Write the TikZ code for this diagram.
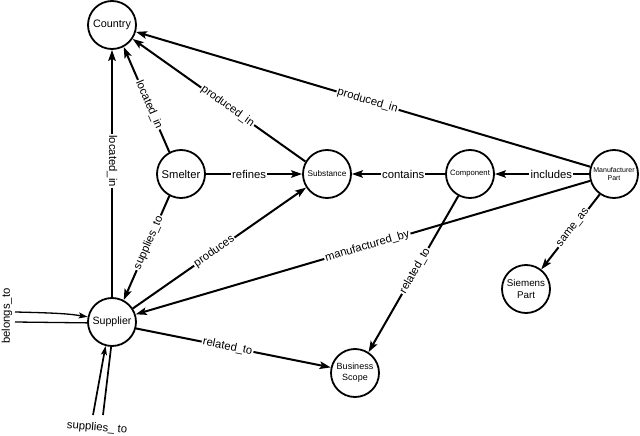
\documentclass[tikz,border=0pt]{standalone}
\usepackage{fontspec}
\setmainfont{Liberation Sans}
\usetikzlibrary{arrows.meta}
\tikzset{
  ent/.style={circle, draw, line width=1.8pt, minimum size=48pt, inner sep=0pt, align=center},
  rel/.style={line width=2pt, -{Stealth[length=11pt,width=7.5pt,inset=2.2pt]}},
  loopln/.style={line width=1.3pt},
  lbl/.style={fill=white, inner sep=1.2pt, font=\fontsize{11.3}{12}\selectfont, sloped},
  lblf/.style={inner sep=1pt, font=\fontsize{11.3}{12}\selectfont}
}
\begin{document}
\begin{tikzpicture}[x=1pt,y=-1pt]
\useasboundingbox (0,0) rectangle (640,436);
\node[ent, font=\fontsize{10.8}{12}\selectfont] (country) at (112,25) {Country};
\node[ent, font=\fontsize{11.2}{12}\selectfont] (smelter) at (181,174) {Smelter};
\node[ent, font=\fontsize{8.2}{9}\selectfont] (subst) at (327,174) {Substance};
\node[ent, font=\fontsize{7.7}{9}\selectfont] (comp) at (470,174) {Component};
\node[ent, font=\fontsize{7}{9}\selectfont] (mp) at (614,174) {Manufacturer\\Part};
\node[ent, font=\fontsize{10.6}{12}\selectfont] (sup) at (112,322) {Supplier};
\node[ent, font=\fontsize{9.8}{12}\selectfont] (siem) at (526,289) {Siemens\\Part};
\node[ent, font=\fontsize{9}{11}\selectfont] (bs) at (355,373) {Business\\Scope};

% edges
\draw[rel] (sup.90) -- node[pos=0.55, fill=white, inner sep=1.2pt, font=\fontsize{11.3}{12}\selectfont, rotate=-90] {located\_in} (country.-90);
\draw[rel] (smelter.118) -- node[lbl, pos=0.45] {located\_in} (country.-62);
\draw[rel] (subst.150) -- node[lbl, pos=0.45] {produced\_in} (country.-34);
\draw[rel] (mp.163) -- node[lbl, pos=0.49] {produced\_in} (country.-16);
\draw[rel] (smelter) -- node[lbl, pos=0.45] {refines} (subst);
\draw[rel] (comp) -- node[lbl, pos=0.45] {contains} (subst);
\draw[rel] (mp) -- node[lbl, pos=0.4] {includes} (comp);
\draw[rel] (mp.235) -- node[lbl, pos=0.45] {same\_as} (siem.52);
\draw[rel] (mp.196) -- node[lbl, pos=0.49] {manufactured\_by} (sup.18);
\draw[rel] (sup.33) -- node[lbl, pos=0.47] {produces} (subst.213);
\draw[rel] (smelter.242) -- node[lbl, pos=0.45] {supplies\_to} (sup.62);
\draw[rel] (sup.-15) -- node[lbl, pos=0.47] {related\_to} (bs.167);
\draw[rel] (comp.242) -- node[lbl, pos=0.48] {related\_to} (bs.57);

% self loops
\coordinate (b1) at (15,312);
\coordinate (b2) at (15,322);
\node[lblf, rotate=90] (bl) at (7,316) {belongs\_to};
\draw[loopln, -{Stealth[length=9pt,width=6pt,inset=2pt]}] (b1) .. controls (60,313) and (70,314) .. (sup.168);
\draw[loopln] (b2) -- (sup.182);
\coordinate (s1) at (93,415);
\coordinate (s2) at (103,415);
\node[lblf, rotate=-5] (sl) at (97,428) {supplies\_ to};
\draw[loopln, line width=1.7pt, -{Stealth[length=9pt,width=6pt,inset=2pt]}] (s1) -- (sup.255);
\draw[loopln, line width=1.7pt] (s2) -- (sup.268);
\end{tikzpicture}
\end{document}
